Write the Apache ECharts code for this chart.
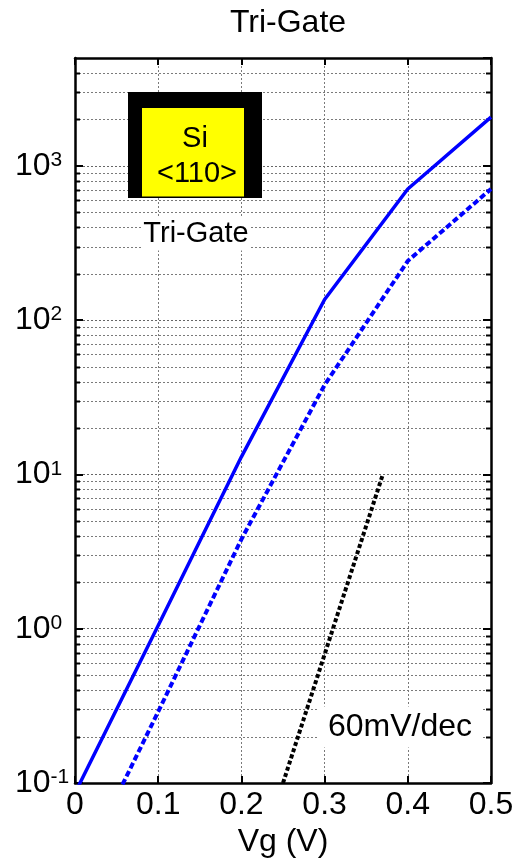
<!DOCTYPE html>
<html>
<head>
<meta charset="utf-8">
<script src="https://cdn.jsdelivr.net/npm/echarts@6/dist/echarts.min.js"></script>
<style>
  html, body { margin: 0; padding: 0; background: #fff; }
  #chart { width: 518px; height: 864px; }
</style>
</head>
<body>
<div id="chart"></div>
<script>
// Gate voltage sweep (V)
const vg = [0, 0.1, 0.2, 0.3, 0.4, 0.5];
// Drain current, solid curve
const idSolid = [0.086, 1.05, 13, 136, 708, 2070];
// Drain current, dashed curve
const idDashed = [0.023, 0.29, 3.8, 38, 242, 708];
// Ideal 60 mV/dec reference slope
const vgRef = [0.25, 0.37];
const idRef = [0.1, 10];

// Axis ranges and ticks
const xTicks = [0, 0.1, 0.2, 0.3, 0.4, 0.5];
const yMin = 0.1, yMax = 5000;
const decades = [0.1, 1, 10, 100, 1000];
const mantissas = [2, 3, 4, 5, 6, 7, 8, 9];

const minorValues = [];
decades.forEach(d => mantissas.forEach(m => {
  const v = m * d;
  if (v < yMax) minorValues.push(v);
}));

const FONT = '"Liberation Sans", Arial, Helvetica, sans-serif';
const GRID_COLOR = '#7a7a7a';

const chart = echarts.init(document.getElementById('chart'), null, { renderer: 'canvas' });

function decadeLabel(v) {
  const e = Math.log10(v);
  const r = Math.round(e);
  if (Math.abs(e - r) > 1e-6) return '';
  return '{b|10}{e|' + r + '}';
}

const tickStyle = { color: '#000', width: 2 };
const boxLine = { show: true, onZero: false, lineStyle: { color: '#000', width: 2.5 } };

const option = {
  animation: false,
  backgroundColor: '#fff',
  textStyle: { fontFamily: FONT },
  title: {
    text: 'Tri-Gate',
    left: 283,
    textAlign: 'center',
    top: 2,
    textStyle: { fontFamily: FONT, fontSize: 32, fontWeight: 'normal', color: '#000' }
  },
  grid: { left: 75, right: 27, top: 58, bottom: 81, containLabel: false },
  xAxis: [
    {
      type: 'value', min: 0, max: 0.5, interval: 0.1, position: 'bottom',
      name: 'Vg (V)', nameLocation: 'middle', nameGap: 40,
      nameTextStyle: { fontFamily: FONT, fontSize: 32, color: '#000' },
      axisLine: boxLine,
      axisTick: { show: true, inside: true, length: 7, lineStyle: tickStyle },
      axisLabel: {
        fontFamily: FONT, fontSize: 32, color: '#000', margin: 6,
        formatter: v => (v === 0 ? '0' : String(+v.toFixed(1)))
      },
      splitLine: { show: true, lineStyle: { color: GRID_COLOR, width: 1, type: [2, 2] } }
    },
    {
      type: 'value', min: 0, max: 0.5, interval: 0.1, position: 'top',
      axisLine: boxLine,
      axisTick: { show: true, inside: true, length: 7, lineStyle: tickStyle },
      axisLabel: { show: false },
      splitLine: { show: false }
    }
  ],
  yAxis: [
    {
      type: 'log', logBase: 10, min: yMin, max: yMax, position: 'left',
      axisLine: boxLine,
      axisTick: { show: true, inside: true, length: 8, lineStyle: tickStyle },
      axisLabel: {
        margin: 60, align: 'left', showMaxLabel: false,
        formatter: decadeLabel,
        rich: {
          b: { fontFamily: FONT, fontSize: 32, color: '#000' },
          e: { fontFamily: FONT, fontSize: 21, color: '#000', verticalAlign: 'top' }
        }
      },
      splitLine: { show: true, lineStyle: { color: '#666', width: 1, type: [2, 2] } },
      minorTick: { show: false },
      minorSplitLine: { show: false }
    },
    {
      type: 'log', logBase: 10, min: yMin, max: yMax, position: 'right',
      axisLine: boxLine,
      axisTick: { show: true, inside: true, length: 8, lineStyle: tickStyle },
      axisLabel: { show: false },
      splitLine: { show: false }
    }
  ],
  series: [
    {
      // minor decade grid lines (2..9 × 10^k) with short inward ticks on both sides
      type: 'custom',
      name: 'minor grid',
      xAxisIndex: 0, yAxisIndex: 0,
      silent: true, z: 1,
      data: minorValues.map(v => [0, v]),
      encode: { x: 0, y: 1 },
      renderItem: function (params, api) {
        const cs = params.coordSys;
        const y = Math.round(api.coord([0, api.value(1)])[1]) + 0.5;
        return {
          type: 'group',
          children: [
            { type: 'line', shape: { x1: cs.x, y1: y, x2: cs.x + cs.width, y2: y },
              style: { stroke: GRID_COLOR, lineWidth: 1, lineDash: [2, 2] } },
            { type: 'line', shape: { x1: cs.x, y1: y, x2: cs.x + 5, y2: y },
              style: { stroke: '#000', lineWidth: 2 } },
            { type: 'line', shape: { x1: cs.x + cs.width - 5, y1: y, x2: cs.x + cs.width, y2: y },
              style: { stroke: '#000', lineWidth: 2 } }
          ]
        };
      }
    },
    {
      type: 'line', name: 'solid',
      data: vg.map((x, i) => [x, idSolid[i]]),
      showSymbol: false, symbol: 'none', clip: true, z: 3,
      lineStyle: { color: '#0000ff', width: 3.5 }
    },
    {
      type: 'line', name: 'dashed',
      data: vg.map((x, i) => [x, idDashed[i]]),
      showSymbol: false, symbol: 'none', clip: true, z: 3,
      lineStyle: { color: '#0000ff', width: 4, type: [6, 3] }
    },
    {
      type: 'line', name: '60mV/dec',
      data: vgRef.map((x, i) => [x, idRef[i]]),
      showSymbol: false, symbol: 'none', clip: true, z: 3,
      lineStyle: { color: '#000', width: 4, type: [4, 2.5] }
    }
  ],
  graphic: [
    // tri-gate cross-section inset
    { type: 'rect', z: 100, shape: { x: 128, y: 92, width: 134, height: 106 }, style: { fill: '#000' } },
    { type: 'rect', z: 101, shape: { x: 142, y: 108, width: 102, height: 88.5 }, style: { fill: '#ffff00' } },
    { type: 'text', z: 102, x: 195, y: 139,
      style: { text: 'Si', font: '29px ' + FONT, fill: '#000', align: 'center', verticalAlign: 'middle' } },
    { type: 'text', z: 102, x: 197, y: 174,
      style: { text: '<110>', font: '29px ' + FONT, fill: '#000', align: 'center', verticalAlign: 'middle' } },
    { type: 'text', z: 102, x: 196, y: 234,
      style: { text: 'Tri-Gate', font: '29px ' + FONT, fill: '#000', align: 'center', verticalAlign: 'middle',
               backgroundColor: '#fff', padding: [2, 1, 2, 1] } },
    { type: 'text', z: 102, x: 400, y: 727,
      style: { text: '60mV/dec', font: '32px ' + FONT, fill: '#000', align: 'center', verticalAlign: 'middle',
               backgroundColor: '#fff', padding: [6, 9, 3, 9] } }
  ]
};

chart.setOption(option);
</script>
</body>
</html>
